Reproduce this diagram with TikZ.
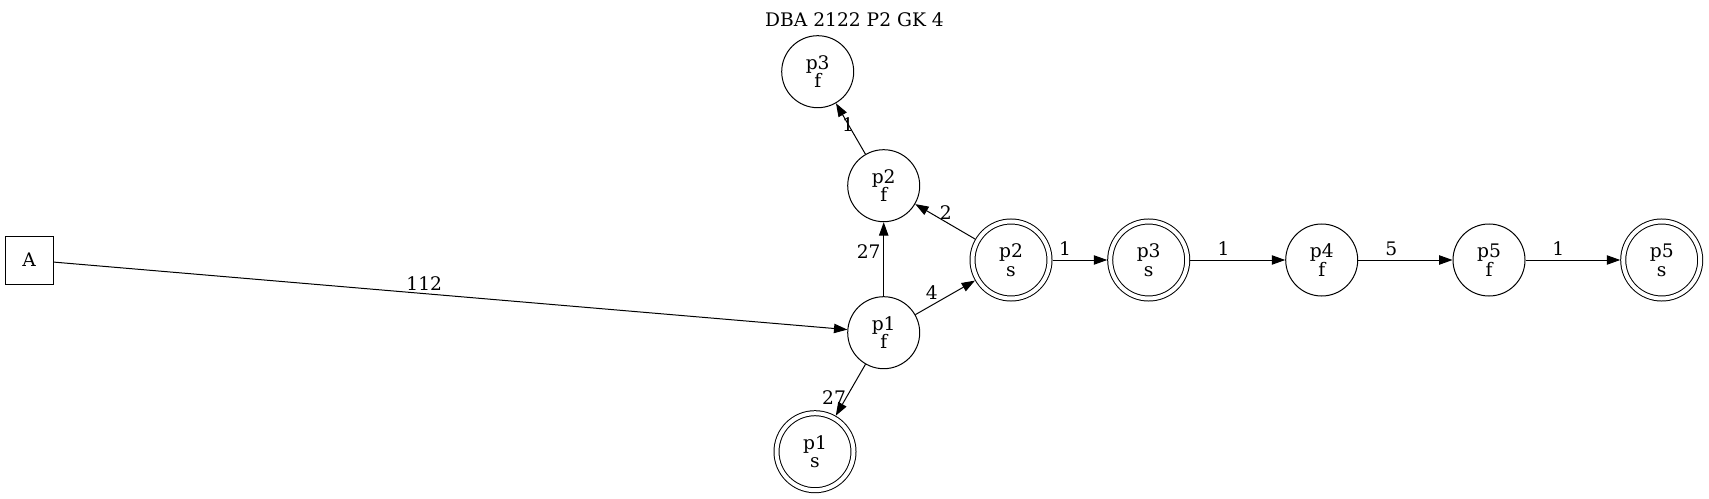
\documentclass[tikz,border=0pt]{standalone}
\usepackage{fontspec}
\setmainfont{DejaVu Serif}
\usetikzlibrary{arrows.meta, positioning}

\begin{document}
\begin{tikzpicture}[x=0.75pt, y=-0.75pt, line width=0.75pt,
    every node/.style={font=\fontsize{14}{14}\selectfont},
    state/.style={draw, circle, minimum size=54pt, inner sep=0pt, align=center},
    final/.style={state, minimum size=57.75pt, double, double distance=3pt, outer sep=2.25pt},
    start/.style={draw, rectangle, minimum size=36pt, inner sep=0pt},
    edge/.style={-{Triangle[length=10pt, width=7pt]}},
    lbl/.style={inner sep=0pt}]
    \useasboundingbox (0, 0) rectangle (1709, 499);

    \node (title) at (854.5, 20) {DBA 2122 P2 GK 4};

    \node[start] (A) at (29, 260) {A};
    \node[state] (p1f) at (883.7, 332.7) {p1\\f};
    \node[state] (p2f) at (883.7, 185.7) {p2\\f};
    \node[state] (p3f) at (817.7, 71.7) {p3\\f};
    \node[final] (p1s) at (815, 451.7) {p1\\s};
    \node[final] (p2s) at (1011, 260) {p2\\s};
    \node[final] (p3s) at (1148.7, 260) {p3\\s};
    \node[state] (p4f) at (1321.7, 260) {p4\\f};
    \node[state] (p5f) at (1489, 260) {p5\\f};
    \node[final] (p5s) at (1661.7, 260) {p5\\s};

    \draw[edge] (A) -- (p1f) node[lbl, pos=0.467, above=2pt]{112};
    \draw[edge] (p1f) -- (p2f) node[lbl, pos=0.6, left=2pt]{27};
    \draw[edge] (p1f) -- (p2s) node[lbl, pos=0.4, above left=1pt]{4};
    \draw[edge] (p1f) -- (p1s) node[lbl, pos=0.64, left]{27};
    \draw[edge] (p2s) -- (p2f) node[lbl, pos=0.58, above right=-1pt]{2};
    \draw[edge] (p2f) -- (p3f) node[lbl, pos=0.59]{1};
    \draw[edge] (p2s) -- (p3s) node[lbl, pos=0.23, above=3pt]{1};
    \draw[edge] (p3s) -- (p4f) node[lbl, pos=0.35, above=3pt]{1};
    \draw[edge] (p4f) -- (p5f) node[lbl, pos=0.35, above=3pt]{5};
    \draw[edge] (p5f) -- (p5s) node[lbl, pos=0.345, above=3pt]{1};
\end{tikzpicture}
\end{document}
